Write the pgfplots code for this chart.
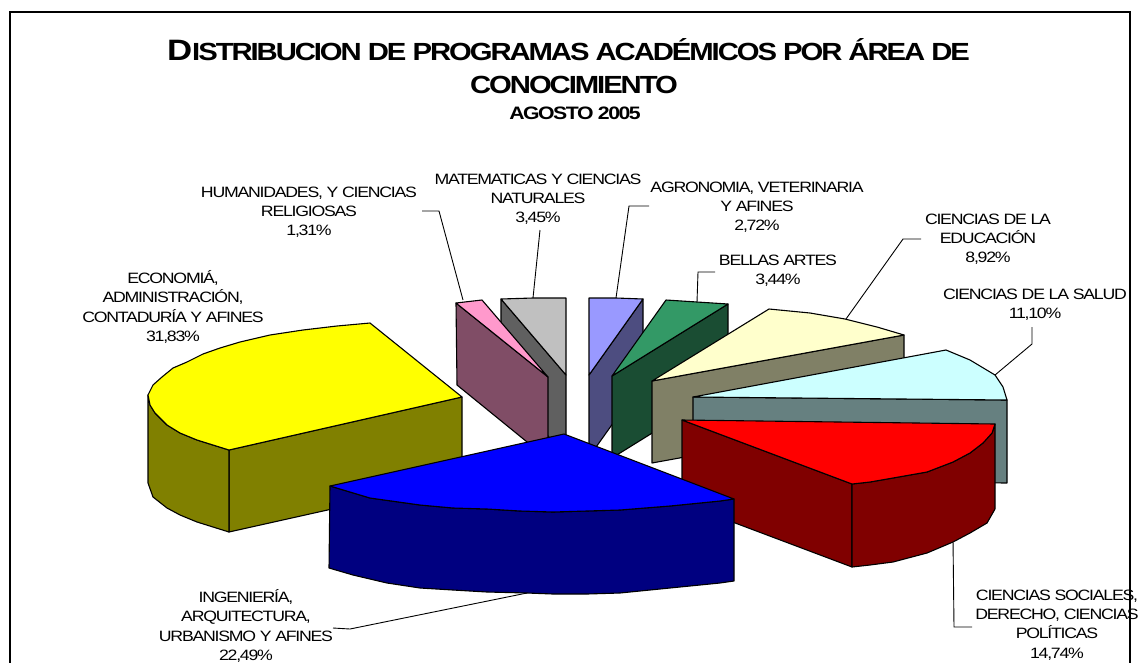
\documentclass[border=0pt]{standalone}
\usepackage{pgfplots}
\pgfplotsset{compat=1.18}
\usepackage{fontspec}
\setmainfont[LetterSpace=-8.3,FakeStretch=1.18]{Liberation Sans}
\definecolor{cgray}{HTML}{C0C0C0}\definecolor{cgrayd}{HTML}{606060}
\definecolor{cpink}{HTML}{FF99CC}\definecolor{cpinkd}{HTML}{804D66}
\definecolor{cperi}{HTML}{9999FF}\definecolor{cperid}{HTML}{4D4D80}
\definecolor{cgreen}{HTML}{339966}\definecolor{cgreend}{HTML}{1A4D33}
\definecolor{ccream}{HTML}{FFFFCC}\definecolor{ccreamd}{HTML}{808066}
\definecolor{ccyan}{HTML}{CCFFFF}\definecolor{ccyand}{HTML}{668080}
\definecolor{cred}{HTML}{FF0000}\definecolor{credd}{HTML}{800000}
\definecolor{cyel}{HTML}{FFFF00}\definecolor{cyeld}{HTML}{808000}
\definecolor{cblue}{HTML}{0000FF}\definecolor{cblued}{HTML}{000080}
\tikzset{
  slice/.style={draw=black,line width=1.1pt,line join=round},
  lead/.style={draw=black,line width=0.9pt},
  lab/.style={align=center,font=\fontsize{15}{19.2}\selectfont,inner sep=0pt,text=black},
}
\begin{document}
\begin{tikzpicture}
\begin{axis}[
  name=a,
  width=1140pt,height=662pt,scale only axis,
  xmin=0,xmax=1140,ymin=0,ymax=662,y dir=reverse,hide axis,
]
% frame
\addplot[draw=black,line width=1.6pt] coordinates {(10,700)(10,12)(1130,12)(1130,700)};
% leader lines
\addplot[lead] coordinates {(422,211)(439,211)(463,300)};
\addplot[lead] coordinates {(540,230)(533,298)};
\addplot[lead] coordinates {(649,206)(629,206)(616,298)};
\addplot[lead] coordinates {(715,272)(698,272)(697,302)};
\addplot[lead] coordinates {(921,239)(903,239)(846,319)};
\addplot[lead] coordinates {(1032,327)(1032,344)(995,375)};
\addplot[lead] coordinates {(953,540)(954,627)(972,627)};
\addplot[lead] coordinates {(333,628)(350,629)(527,593)};
% gray 3,45
\addplot[slice,fill=cgrayd] coordinates {(501,299)(566,375)(566,457)(501,381)} -- cycle;
\addplot[slice,fill=cgray] coordinates {(501,299)(533,298)(566,298)(566,375)} -- cycle;
% pink 1,31
\addplot[slice,fill=cpinkd] coordinates {(456,303)(548,377)(548,459)(457,385)} -- cycle;
\addplot[slice,fill=cpink] coordinates {(456,303)(482,300)(548,377)} -- cycle;
% periwinkle 2,72
\addplot[slice,fill=cperid] coordinates {(589,375)(643,299)(643,381)(589,457)} -- cycle;
\addplot[slice,fill=cperi] coordinates {(589,298)(616,298)(643,299)(589,375)} -- cycle;
% green 3,44
\addplot[slice,fill=cgreend] coordinates {(612,376)(728,304)(728,386)(612,458)} -- cycle;
\addplot[slice,fill=cgreen] coordinates {(666,300)(697,302)(728,304)(612,376)} -- cycle;
% cream 8,92
\addplot[slice,fill=ccreamd] coordinates {(652,381)(904,335)(904,417)(652,463)} -- cycle;
\addplot[slice,fill=ccream] coordinates {(769,309)(810,313)(845,319)(877,327)(904,335)(652,381)} -- cycle;
% cyan 11,10
\addplot[slice,fill=ccyand] coordinates {(693,397)(1007,400)(1007,483)(693,480)} -- cycle;
\addplot[slice,fill=ccyan] coordinates {(693,397)(946,350)(970,360)(995,375)(1003,387)(1007,400)} -- cycle;
% red 14,74
\addplot[slice,fill=credd] coordinates {(682,420)(852,484)(852,567)(682,503)} -- cycle;
\addplot[slice,fill=credd] coordinates {(852,484)(870,482)(893,478)(927,472)(953,462)(970,453)(983,443)(992,433)(995,424)(995,509)(987,523)(970,533)(953,542)(927,553)(893,562)(870,565)(852,567)} -- cycle;
\addplot[slice,fill=cred] coordinates {(682,420)(995,424)(992,433)(983,443)(970,453)(953,462)(927,472)(893,478)(870,482)(852,484)} -- cycle;
% yellow 31,83
\addplot[slice,fill=cyeld] coordinates {(229,450)(462,397)(462,480)(229,532)} -- cycle;
\addplot[slice,fill=cyeld] coordinates {(148,395)(150,405)(155,413)(167,425)(180,433)(197,440)(213,445)(229,450)(229,532)(213,527)(197,522)(180,515)(167,508)(153,497)(148,483)} -- cycle;
\addplot[slice,fill=cyel] coordinates {(370,323)(337,326)(303,330)(270,335)(240,342)(220,348)(203,354)(187,362)(173,368)(162,377)(153,385)(148,395)(150,405)(155,413)(167,425)(180,433)(197,440)(213,445)(229,450)(462,397)} -- cycle;
% blue 22,49
\addplot[slice,fill=cblued] coordinates {(330,486)(370,498)(420,505)(453,508)(487,509)(520,511)(553,512)(587,511)(620,510)(670,506)(720,501)(734,499)(734,581)(720,583)(670,588)(620,593)(587,594)(553,594)(527,593)(487,592)(453,590)(420,588)(387,583)(353,575)(329,568)} -- cycle;
\addplot[slice,fill=cblue] coordinates {(564,434)(330,486)(370,498)(420,505)(453,508)(487,509)(520,511)(553,512)(587,511)(620,510)(670,506)(720,501)(734,499)} -- cycle;
% title
\node[inner sep=0pt,font=\bfseries\fontsize{24.8}{25}\selectfont] at (axis cs:568.5,50) {{\fontsize{29.5}{30}\selectfont D}ISTRIBUCION DE PROGRAMAS ACADÉMICOS POR ÁREA DE};
\node[inner sep=0pt,font=\bfseries\fontsize{24.8}{25}\selectfont] at (axis cs:574,85) {CONOCIMIENTO};
\node[inner sep=0pt,font=\bfseries\fontsize{18}{18}\selectfont] at (axis cs:575,113) {AGOSTO 2005};
% labels
\node[lab] at (axis cs:309,212.5) {HUMANIDADES, Y CIENCIAS\\RELIGIOSAS\\1,31\%};
\node[lab] at (axis cs:538,199) {MATEMATICAS Y CIENCIAS\\NATURALES\\3,45\%};
\node[lab] at (axis cs:757,207.5) {AGRONOMIA, VETERINARIA\\Y AFINES\\2,72\%};
\node[lab] at (axis cs:778,271) {BELLAS ARTES\\3,44\%};
\node[lab] at (axis cs:988,239) {CIENCIAS DE LA\\EDUCACIÓN\\8,92\%};
\node[lab] at (axis cs:1035,304.5) {CIENCIAS DE LA SALUD\\11,10\%};
\node[lab] at (axis cs:1057,625) {CIENCIAS SOCIALES,\\DERECHO, CIENCIAS\\POLÍTICAS\\14,74\%};
\node[lab] at (axis cs:246,626) {INGENIERÍA,\\ARQUITECTURA,\\URBANISMO Y AFINES\\22,49\%};
\node[lab] at (axis cs:173,307) {ECONOMIÁ,\\ADMINISTRACIÓN,\\CONTADURÍA Y AFINES\\31,83\%};
\end{axis}
\pgfresetboundingbox
\useasboundingbox (a.south west) rectangle (a.north east);
\end{tikzpicture}
\end{document}
